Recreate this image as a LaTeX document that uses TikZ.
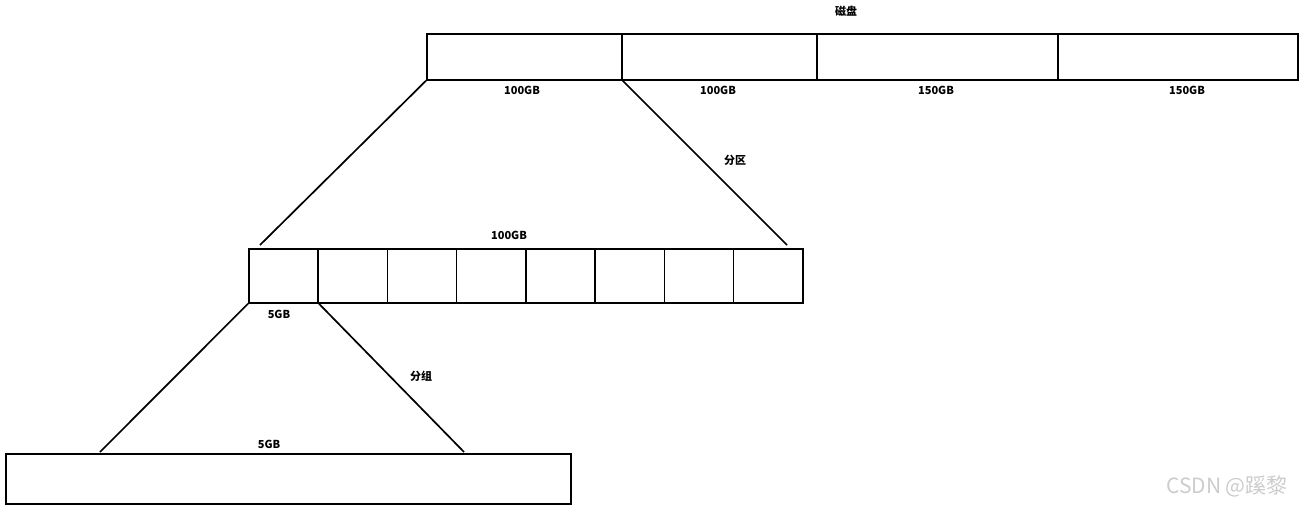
\documentclass[tikz,border=0pt]{standalone}
\usepackage{fontspec}
\setmainfont{Noto Sans CJK SC}
\begin{document}
\begin{tikzpicture}[x=1pt, y=-1pt, line width=1.7pt,
        cell/.style={draw, line width=1.7pt, anchor=north west, inner sep=0pt},
        lab/.style={font=\fontsize{11}{13}\selectfont\bfseries}]
    \useasboundingbox (0,0) rectangle (1305,507);
    % disk and its partitions
    \node[lab] (disk) at (846,11) {磁盘};
    \foreach \name/\x/\w/\lx/\lab in {d1/426/195/522/100GB, d2/621/195/718/100GB, d3/816/241/936/150GB, d4/1057/240/1187/150GB}{
        \node[cell, minimum width=\w pt, minimum height=46pt] (\name) at (\x,33) {};
        \node[lab] (\name lab) at (\lx,90) {\lab};
    }
    % one partition split into groups
    \foreach \i in {1,...,8}{
        \node[cell, minimum width=69.25pt, minimum height=54pt] (p\i) at ({248+(\i-1)*69.25},248) {};
    }
    \node[lab] (plab) at (509,235) {100GB};
    \node[lab] (p1lab) at (279,314) {5GB};
    \coordinate (pl) at (260,245);
    \coordinate (pr) at (787,245);
    \draw (d1.south west) -- (pl);
    \draw (d1.south east) -- (pr);
    \node[lab] (split) at (735,160) {分区};
    % one group
    \node[cell, minimum width=565pt, minimum height=50pt] (grp) at (5,453) {};
    \node[lab] (grplab) at (269,444) {5GB};
    \coordinate (gl) at (100,452);
    \coordinate (gr) at (464,452);
    \draw (p1.south west) -- (gl);
    \draw (p1.south east) -- (gr);
    \node[lab] (group) at (421,376) {分组};
    \node[text=gray!40, font=\fontsize{21}{24}\selectfont] (mark) at (1227,486) {CSDN @蹊黎};
\end{tikzpicture}
\end{document}
